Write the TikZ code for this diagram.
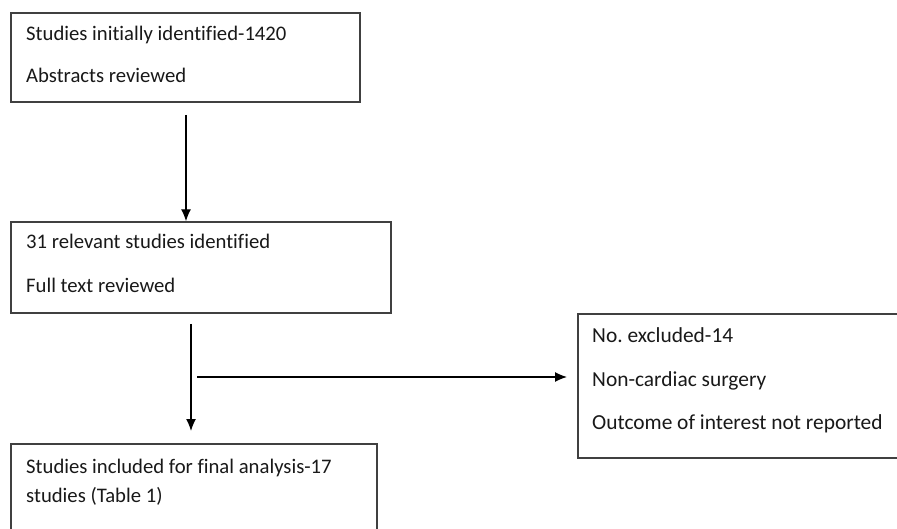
\documentclass[tikz,border=0pt]{standalone}
\usepackage{fontspec}
\setmainfont[Ligatures=NoCommon]{Carlito}
\usetikzlibrary{arrows.meta}
\begin{document}
\frenchspacing
\begin{tikzpicture}[x=1pt,y=-1pt,
  box/.style={draw=black!75,line width=1.4pt,inner sep=0pt,minimum width=#1},
  txt/.style={anchor=base west,inner sep=0pt,font=\fontsize{20.7}{24}\selectfont,text=black!90},
  txtb/.style={txt,font=\fontsize{21.4}{25}\selectfont},
  arr/.style={draw=black,line width=1.3pt,-{Latex[length=12pt,width=10pt]}}]
\useasboundingbox (0,0) rectangle (897,529);
\clip (0,0) rectangle (897,529);
\fill[white] (0,0) rectangle (897,529);
% boxes
\node[box=349pt,minimum height=89pt] (b1) at (185.5,57.5) {};
\node[box=380pt,minimum height=91pt] (b2) at (201,267.5) {};
\node[box=340pt,minimum height=144pt] (b3) at (748,386) {};
\node[box=366pt,minimum height=110pt] (b4) at (194,499) {};
% texts
\node[txt] (t1a) at (26,41) {Studies initially identified-1420};
\node[txt] (t1b) at (26,83) {Abstracts reviewed};
\node[txt] (t2a) at (26,249) {31 relevant studies identified};
\node[txt] (t2b) at (26,293) {Full text reviewed};
\node[txtb] (t3a) at (592,342) {No. excluded-14};
\node[txtb] (t3b) at (592,386) {Non-cardiac surgery};
\node[txtb] (t3c) at (592,429) {Outcome of interest not reported};
\node[txt] (t4a) at (26,473) {Studies included for final analysis-17};
\node[txt] (t4b) at (26,502) {studies (Table 1)};
% connectors
\coordinate (a1s) at (186,115);
\coordinate (a2s) at (191,324);
\coordinate (a2e) at (191,431);
\coordinate (a3s) at (197,377);
\coordinate (a3e) at (567,377);
\draw[arr] (a1s) -- (a1s |- b2.north);
\draw[arr] (a2s) -- (a2e);
\draw[arr] (a3s) -- (a3e);
\end{tikzpicture}
\end{document}
